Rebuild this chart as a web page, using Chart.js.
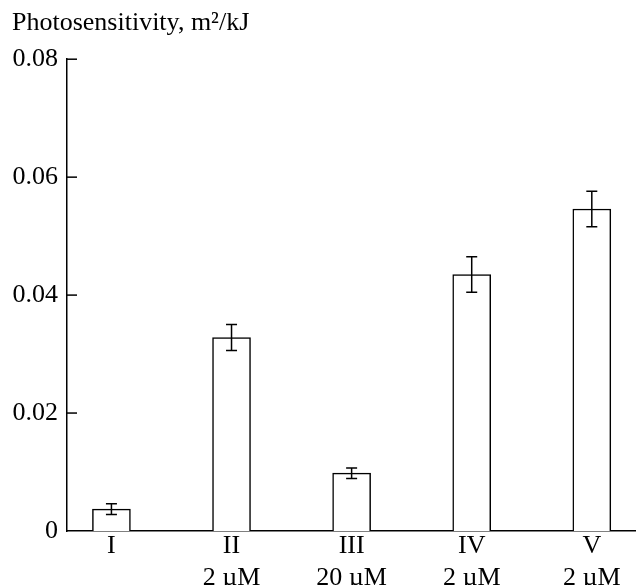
<!DOCTYPE html>
<html lang="en">
  <head>
    <meta charset="UTF-8" />
    <title>Photosensitivity</title>
    <script src="https://cdn.jsdelivr.net/npm/chart.js"></script>
    <style>
      html, body { margin: 0; padding: 0; background: #fff; overflow: hidden; }
      #wrap { width: 636px; height: 585px; }
    </style>
  </head>
  <body>
    <div id="wrap"><canvas id="photoChart" width="636" height="585"></canvas></div>

    <script>
      // data
      const samples = ["I", "II", "III", "IV", "V"];
      const concentrations = ["", "2 µM", "20 µM", "2 µM", "2 µM"];
      const sensitivity = [0.0037, 0.0328, 0.0098, 0.0435, 0.0546];
      const sensitivityErr = [0.0009, 0.0022, 0.0009, 0.003, 0.003];
      const yTicks = [0, 0.02, 0.04, 0.06, 0.08];

      const FONT = "'Liberation Serif', 'Times New Roman', serif";

      // error bars + inward tick marks on the y axis
      const extras = {
        id: "extras",
        afterDatasetsDraw(chart) {
          const { ctx, scales } = chart;
          const x = scales.x, y = scales.y;
          ctx.save();
          ctx.strokeStyle = "#000";
          ctx.lineWidth = 1.5;
          sensitivity.forEach((v, i) => {
            const px = x.getPixelForValue(i + 1);
            const top = y.getPixelForValue(v + sensitivityErr[i]);
            const bot = y.getPixelForValue(v - sensitivityErr[i]);
            ctx.beginPath();
            ctx.moveTo(px, top);
            ctx.lineTo(px, bot);
            ctx.moveTo(px - 5.5, top);
            ctx.lineTo(px + 5.5, top);
            ctx.moveTo(px - 5.5, bot);
            ctx.lineTo(px + 5.5, bot);
            ctx.stroke();
          });
          yTicks.forEach((t) => {
            if (t === 0) return;
            const py = y.getPixelForValue(t);
            ctx.beginPath();
            ctx.moveTo(y.right, py);
            ctx.lineTo(y.right + 10, py);
            ctx.stroke();
          });
          ctx.restore();
        },
      };

      const ctx = document.getElementById("photoChart").getContext("2d");
      new Chart(ctx, {
        type: "bar",
        data: {
          datasets: [
            {
              data: sensitivity.map((v, i) => ({ x: i + 1, y: v })),
              backgroundColor: "#fff",
              borderColor: "#000",
              borderWidth: 1.5,
              barThickness: 38,
            },
          ],
        },
        options: {
          responsive: false,
          animation: false,
          layout: { padding: { left: 12, right: 0, top: 8, bottom: 0 } },
          plugins: {
            legend: { display: false },
            tooltip: { enabled: false },
            title: {
              display: true,
              text: "Photosensitivity, m²/kJ",
              align: "start",
              color: "#000",
              font: { family: FONT, size: 26, weight: "normal", lineHeight: 1.2 },
              padding: { top: 0, bottom: 20 },
            },
          },
          scales: {
            x: {
              type: "linear",
              offset: false,
              min: 0.63,
              max: 5.368,
              grid: { display: false, drawTicks: false },
              border: { display: true, color: "#000", width: 1.5 },
              afterBuildTicks: (scale) => {
                scale.ticks = samples.map((_, i) => ({ value: i + 1 }));
              },
              afterFit: (scale) => { scale.height = 54; },
              ticks: {
                color: "#000",
                padding: 0,
                maxRotation: 0,
                autoSkip: false,
                font: { family: FONT, size: 26, lineHeight: 1.2 },
                callback: (value) => {
                  const i = value - 1;
                  return concentrations[i] ? [samples[i], concentrations[i]] : samples[i];
                },
              },
            },
            y: {
              min: 0,
              max: 0.08,
              grid: { display: false, drawTicks: false },
              border: { display: true, color: "#000", width: 1.5 },
              afterBuildTicks: (scale) => {
                scale.ticks = yTicks.map((v) => ({ value: v }));
              },
              afterFit: (scale) => { scale.width = 55; },
              ticks: {
                color: "#000",
                padding: 9,
                font: { family: FONT, size: 26 },
                callback: (value) => (value === 0 ? "0" : value.toFixed(2)),
              },
            },
          },
        },
        plugins: [extras],
      });
    </script>
  </body>
</html>
